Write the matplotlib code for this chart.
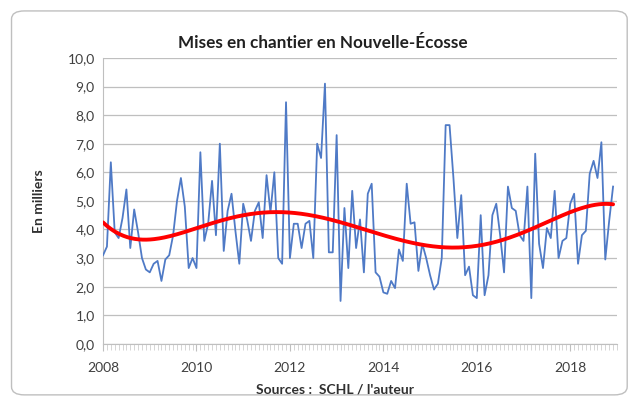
import numpy as np
import matplotlib.pyplot as plt
from matplotlib.patches import FancyBboxPatch
from matplotlib.ticker import MultipleLocator, FuncFormatter

# mises en chantier mensuelles (milliers), janvier 2008 -> décembre 2018
mises = [
    3.1, 3.4, 6.35, 3.9, 3.7, 4.4, 5.4, 3.35, 4.7, 3.9, 3.0, 2.6,
    2.5, 2.8, 2.9, 2.2, 2.95, 3.1, 3.8, 5.0, 5.8, 4.8, 2.65, 3.0,
    2.65, 6.7, 3.6, 4.2, 5.7, 3.8, 7.0, 3.25, 4.65, 5.25, 3.95, 2.8,
    4.9, 4.35, 3.6, 4.65, 4.95, 3.7, 5.9, 4.6, 6.0, 3.0, 2.8, 8.45,
    3.0, 4.2, 4.2, 3.35, 4.2, 4.3, 3.0, 7.0, 6.5, 9.1, 3.2, 3.2,
    7.3, 1.5, 4.75, 2.65, 5.35, 3.35, 4.35, 2.5, 5.25, 5.6, 2.5, 2.35,
    1.8, 1.75, 2.2, 1.95, 3.3, 2.9, 5.6, 4.2, 4.25, 2.55, 3.5, 3.0,
    2.4, 1.9, 2.1, 3.0, 7.65, 7.65, 5.8, 3.7, 5.2, 2.4, 2.7, 1.7,
    1.6, 4.5, 1.7, 2.4, 4.5, 4.9, 3.8, 2.5, 5.5, 4.75, 4.65, 3.8,
    3.6, 5.5, 1.6, 6.65, 3.5, 2.65, 4.05, 3.7, 5.35, 3.0, 3.6, 3.7,
    4.9, 5.25, 2.8, 3.8, 3.95, 5.95, 6.4, 5.8, 7.05, 2.95, 4.3, 5.5,
]
annee_debut = 2008
annees_ticks = [2008, 2010, 2012, 2014, 2016, 2018]

mises = np.array(mises)
t = annee_debut + np.arange(len(mises)) / 12.0

# courbe de tendance polynomiale, comme la tendance Excel
coef = np.polyfit(t - t.mean(), mises, 5)
tt = np.linspace(t[0], t[-1], 400)
tendance = np.polyval(coef, tt - t.mean())

plt.rcParams['font.family'] = ['Lato', 'DejaVu Sans']

fig = plt.figure(figsize=(6.4, 4.05), dpi=100)
cadre = FancyBboxPatch((0.018, 0.025), 0.962, 0.948, boxstyle="round,pad=0,rounding_size=0.02",
                       transform=fig.transFigure, facecolor='white', edgecolor='#bfbfbf',
                       lw=1.0, zorder=-5)
fig.patches.append(cadre)

ax = fig.add_axes([0.161, 0.151, 0.803, 0.706])
ax.patch.set_alpha(0)
ax.plot(t, mises, color='#4f7ac6', lw=1.3, zorder=3)
ax.plot(tt, tendance, color='#ff0000', lw=2.8, zorder=4, solid_capstyle='round')

ax.set_xlim(2008, 2019)
ax.set_ylim(0, 10)
ax.yaxis.set_major_locator(MultipleLocator(1))
ax.yaxis.set_major_formatter(FuncFormatter(lambda v, p: f"{v:.1f}".replace('.', ',')))
ax.set_xticks(annees_ticks)
ax.xaxis.set_minor_locator(MultipleLocator(1 / 12))

ax.grid(axis='y', color='#bfbfbf', lw=0.9)
ax.set_axisbelow(True)
for s in ['top', 'right']:
    ax.spines[s].set_visible(False)
ax.spines['left'].set_color('#bfbfbf')
ax.spines['bottom'].set_color('#bfbfbf')
ax.tick_params(axis='y', length=0, labelsize=10, colors='#404040', pad=6)
ax.tick_params(axis='x', which='major', length=5, color='#bfbfbf', labelsize=10,
               labelcolor='#404040', pad=8)
ax.tick_params(axis='x', which='minor', length=4, color='#cfcfcf', width=0.6)

# titre centré sur la figure
fig.text(0.505, 0.895, "Mises en chantier en Nouvelle-Écosse", fontsize=12.3,
         fontweight='bold', color='#202020', ha='center', va='center')
ax.set_ylabel("En milliers", fontsize=10, fontweight='bold', color='#303030', labelpad=16)
ax.set_xlabel("Sources :  SCHL / l'auteur", fontsize=10, fontweight='bold', color='#303030')
ax.xaxis.set_label_coords(0.451, -0.14)

fig.savefig("out.png", dpi=100)
